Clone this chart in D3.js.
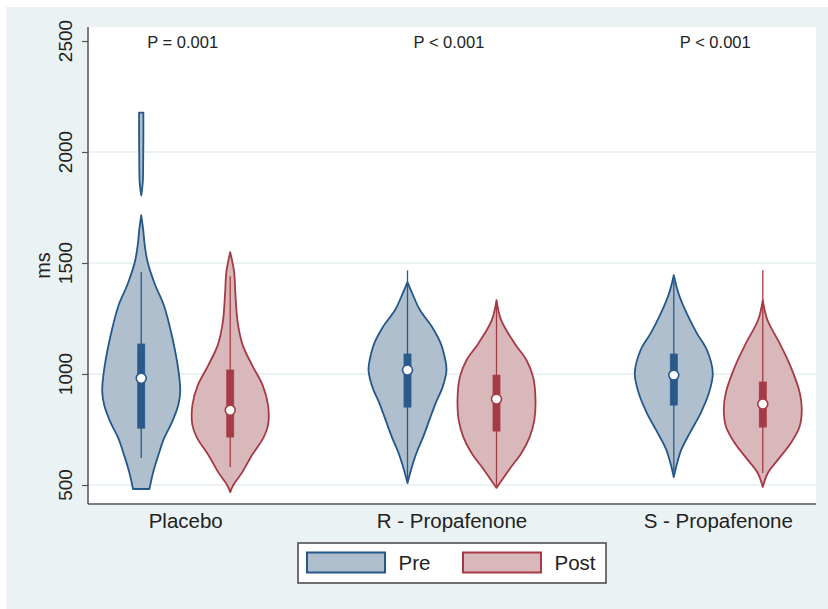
<!DOCTYPE html>
<html>
<head>
<meta charset="utf-8">
<script src="https://cdn.jsdelivr.net/npm/d3@7/dist/d3.min.js"></script>
<style>
  html, body { margin: 0; padding: 0; background: #ffffff; }
  svg { display: block; font-family: "Liberation Sans", Arial, sans-serif; }
</style>
</head>
<body>
<svg id="chart" width="828" height="609"></svg>
<script>
// ---- data ----------------------------------------------------------------
const categories = ["Placebo", "R - Propafenone", "S - Propafenone"];
const seriesNames = ["Pre", "Post"];
const pLabels = ["P = 0.001", "P < 0.001", "P < 0.001"];
const yTicks = [500, 1000, 1500, 2000, 2500];
const gridValues = [500, 1000, 1500, 2000];

// Density profiles: [ms, relative density]; null marks a gap in the estimate
const placeboPre = [[482,0.21],[560,0.31],[635,0.44],[712,0.59],[783,0.79],[860,0.95],[920,1.00],
  [1008,0.96],[1162,0.80],[1310,0.58],[1400,0.36],[1500,0.17],[1580,0.09],[1650,0.05],[1715,0],
  null,
  [1805,0],[1864,0.04],[1950,0.05],[2050,0.055],[2177,0.055]];
const placeboPost = [[468,0],[500,0.08],[558,0.31],[635,0.56],[712,0.85],[770,0.97],[860,0.97],
  [950,0.83],[1040,0.56],[1130,0.32],[1234,0.19],[1369,0.13],[1459,0.10],[1549,0]];
const rPre = [[509,0],[568,0.09],[644,0.23],[716,0.40],[792,0.56],[868,0.72],[941,0.90],[1017,1.00],
  [1062,0.97],[1139,0.85],[1212,0.63],[1288,0.32],[1364,0.12],[1414,0]];
const rPost = [[487,0],[568,0.32],[644,0.64],[716,0.85],[792,0.97],[882,1.00],[986,0.94],
  [1062,0.77],[1139,0.46],[1243,0.12],[1333,0]];
const sPre = [[536,0],[598,0.085],[658,0.19],[734,0.41],[824,0.69],[914,0.90],[1004,1.00],
  [1108,0.85],[1184,0.59],[1274,0.33],[1364,0.12],[1445,0]];
const sPost = [[491,0],[554,0.13],[612,0.38],[689,0.72],[761,0.94],[838,1.00],[914,0.95],
  [1031,0.72],[1139,0.43],[1243,0.12],[1333,0]];

// Box statistics per category, Pre then Post
const whiskerLow  = [[622, 581], [515, 495], [560, 554]];
const q1          = [[756, 716], [851, 743], [860, 761]];
const medians     = [[981, 837], [1018, 887], [995, 865]];
const q3          = [[1135, 1018], [1090, 995], [1090, 964]];
const whiskerHigh = [[1459, 1440], [1467, 1315], [1440, 1467]];

const profiles = [[placeboPre, placeboPost], [rPre, rPost], [sPre, sPost]];

// ---- layout --------------------------------------------------------------
const svg = d3.select("#chart");
const plot = { left: 88, right: 816, top: 27, bottom: 504 };

const colors = {
  Pre:  { fill: "#afbfcd", stroke: "#24578a", box: "#2a5a8a" },
  Post: { fill: "#d9b8bb", stroke: "#a63a44", box: "#a33c46" }
};

// outer background
svg.append("rect").attr("x", 6).attr("y", 7).attr("width", 822).attr("height", 602)
  .attr("fill", "#eaf2f3");
// plot region
svg.append("rect").attr("x", plot.left).attr("y", plot.top)
  .attr("width", plot.right - plot.left).attr("height", plot.bottom - plot.top)
  .attr("fill", "#ffffff");

const y = d3.scaleLinear().domain([500, 2500]).range([485, 41]);
const x = d3.scalePoint().domain(categories).range([plot.left, plot.right]).padding(0.367);
const xs = d3.scalePoint().domain(seriesNames).range([-44.5, 44.5]);
const w = d3.scaleLinear().domain([0, 1]).range([0, 39]);

// grid lines
svg.append("g").selectAll("line").data(gridValues).join("line")
  .attr("x1", plot.left).attr("x2", plot.right)
  .attr("y1", d => y(d)).attr("y2", d => y(d))
  .attr("stroke", "#e3eef0").attr("stroke-width", 1.5);

// y axis
const yAxis = d3.axisLeft(y).tickValues(yTicks).tickSize(6).tickPadding(0).tickFormat(d3.format("d"));
const yg = svg.append("g").attr("transform", `translate(${plot.left},0)`).call(yAxis);
yg.select(".domain").remove();
yg.selectAll(".tick line").attr("stroke", "#555").attr("stroke-width", 1.2);
yg.selectAll(".tick text").remove();
svg.append("line").attr("x1", plot.left).attr("x2", plot.left)
  .attr("y1", plot.top).attr("y2", plot.bottom).attr("stroke", "#555").attr("stroke-width", 1.5);
svg.append("g").selectAll("text").data(yTicks).join("text")
  .attr("transform", d => `translate(71.5,${y(d)}) rotate(-90)`)
  .attr("text-anchor", "middle").attr("font-size", 19).attr("fill", "#222")
  .text(d => d);
svg.append("text").attr("transform", `translate(50,${(plot.top + plot.bottom) / 2}) rotate(-90)`)
  .attr("text-anchor", "middle").attr("font-size", 20).attr("fill", "#222").text("ms");

// x axis
svg.append("line").attr("x1", plot.left).attr("x2", plot.right)
  .attr("y1", plot.bottom).attr("y2", plot.bottom).attr("stroke", "#555").attr("stroke-width", 1.5);
svg.append("g").selectAll("text").data(categories).join("text")
  .attr("x", d => x(d)).attr("y", 527.5)
  .attr("text-anchor", "middle").attr("font-size", 20.5).attr("fill", "#222")
  .text(d => d);

// p-value annotations
svg.append("g").selectAll("text").data(categories).join("text")
  .attr("x", d => x(d) - 3).attr("y", 47.5)
  .attr("text-anchor", "middle").attr("font-size", 16.5).attr("fill", "#222")
  .text((d, i) => pLabels[i]);

// violins
categories.forEach((cat, ci) => {
  seriesNames.forEach((s, si) => {
    const cx = x(cat) + xs(s);
    const col = colors[s];
    const area = d3.area()
      .defined(d => d !== null)
      .y(d => y(d[0]))
      .x0(d => cx - w(d[1]))
      .x1(d => cx + w(d[1]))
      .curve(d3.curveCatmullRom.alpha(0.5));
    svg.append("path").datum(profiles[ci][si])
      .attr("d", area)
      .attr("fill", col.fill)
      .attr("stroke", col.stroke).attr("stroke-width", 1.8).attr("stroke-linejoin", "round");

    // whisker
    svg.append("line").attr("x1", cx).attr("x2", cx)
      .attr("y1", y(whiskerLow[ci][si])).attr("y2", y(whiskerHigh[ci][si]))
      .attr("stroke", col.box).attr("stroke-width", 1.3);
    // interquartile box
    svg.append("rect").attr("x", cx - 3.5).attr("width", 7)
      .attr("y", y(q3[ci][si])).attr("height", y(q1[ci][si]) - y(q3[ci][si]))
      .attr("fill", col.box).attr("stroke", col.box).attr("stroke-width", 0.8);
    // median marker
    svg.append("circle").attr("cx", cx).attr("cy", y(medians[ci][si])).attr("r", 5)
      .attr("fill", "#ffffff").attr("stroke", col.box).attr("stroke-width", 1.6);
  });
});

// legend
const legend = svg.append("g");
legend.append("rect").attr("x", 298).attr("y", 543).attr("width", 308).attr("height", 40)
  .attr("fill", "#ffffff").attr("stroke", "#444").attr("stroke-width", 1.5);
const legendX = d3.scalePoint().domain(seriesNames).range([307, 463]);
seriesNames.forEach(s => {
  legend.append("rect").attr("x", legendX(s)).attr("y", 552.5).attr("width", 78).attr("height", 20)
    .attr("fill", colors[s].fill).attr("stroke", colors[s].stroke).attr("stroke-width", 2);
  legend.append("text").attr("x", legendX(s) + 91.5).attr("y", 570)
    .attr("font-size", 20.5).attr("fill", "#222").text(s);
});
</script>
</body>
</html>
